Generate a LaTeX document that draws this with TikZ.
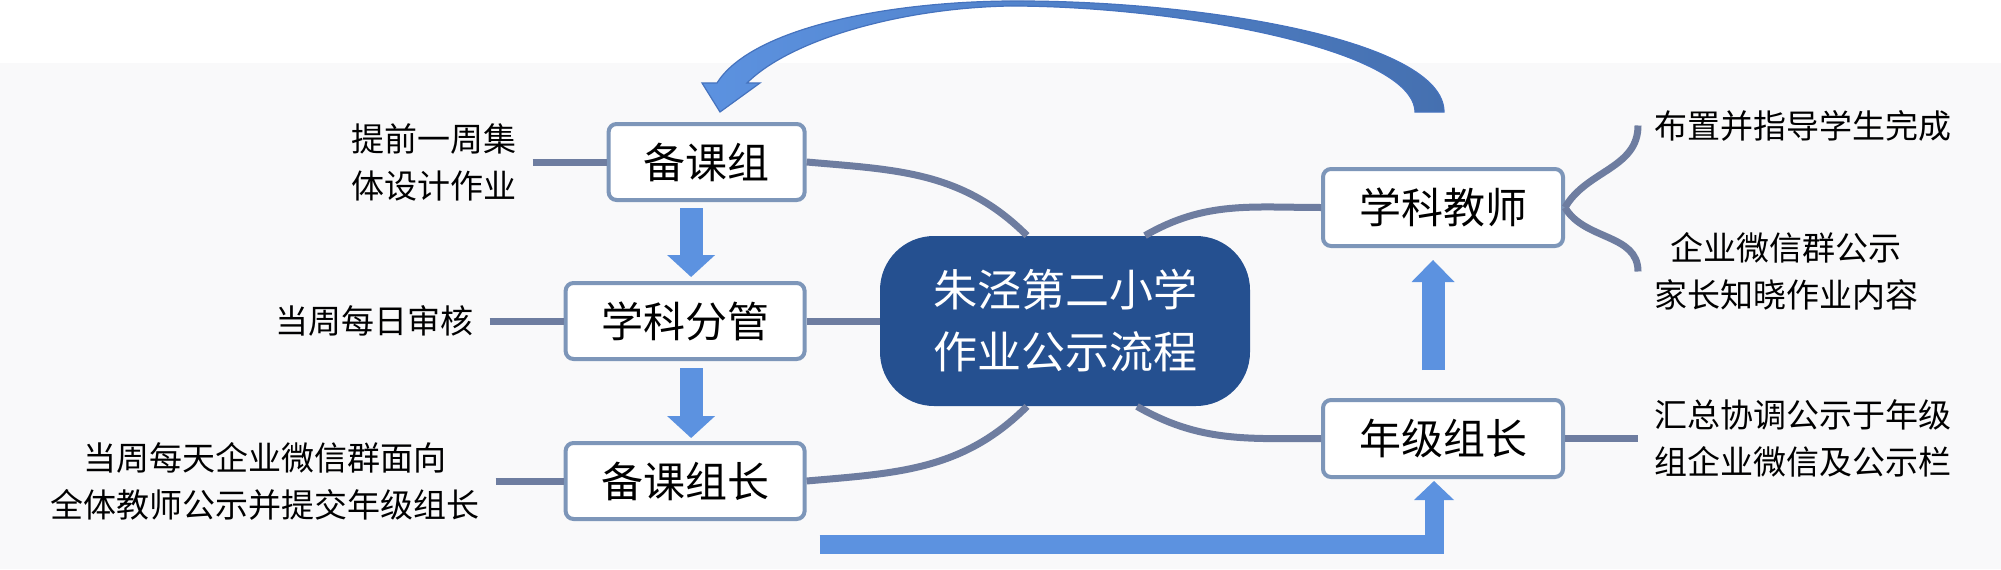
\documentclass[tikz,border=0pt]{standalone}
\usepackage{fontspec}
\newfontfamily\cjk{Noto Sans CJK SC}
\usetikzlibrary{positioning,arrows.meta}

\definecolor{bgcol}{RGB}{249,249,250}
\definecolor{hubcol}{RGB}{37,80,144}
\definecolor{boxline}{RGB}{125,150,185}
\definecolor{linkcol}{RGB}{110,125,160}
\definecolor{arrowfill}{RGB}{92,146,224}
\definecolor{arrowdark}{RGB}{69,112,176}
\definecolor{arrowedge}{RGB}{70,115,190}

\begin{document}
\begin{tikzpicture}[x=0.5pt,y=0.5pt,
                    %node distance=40pt,
                    box/.style={draw=boxline,line width=2pt,rounded corners=4pt,fill=white,
                                minimum height=38pt,font=\cjk\fontsize{21}{25}\selectfont},
                    hub/.style={fill=hubcol,rounded corners=27pt,minimum width=185pt,minimum height=85pt,
                                text=white,align=center,font=\cjk\fontsize{22}{31}\selectfont},
                    note/.style={align=center,inner xsep=8pt,font=\cjk\fontsize{16.5}{23.5}\selectfont},
                    link/.style={draw=linkcol,line width=3.5pt},
                    bigarrow/.style={draw=arrowfill,line width=11.5pt,
                                     -{Triangle[width=24pt,length=11pt,line width=0pt]}},
                    flatarrow/.style={draw=arrowfill,line width=9.5pt,
                                      -{Triangle[width=20pt,length=9.5pt,line width=0pt]}}]

  \useasboundingbox (0,0) rectangle (2001,569);
  \fill[bgcol] (0,0) rectangle (2001,506);

  % centre and left column
  \node[hub] (hub) at (1065,248) {朱泾第二小学\\作业公示流程};
  \node[box,minimum width=119.5pt] (fenguan) [left=36.5pt of hub] {学科分管};
  \node[box,minimum width=119.5pt] (zuzhang) [below=40pt of fenguan] {备课组长};
  \node[box,minimum width=98pt] (kezu) [above=39.5pt of fenguan.north east,anchor=south east] {备课组};

  % right column
  \node[box,minimum width=120pt,minimum height=38.5pt] (xueke) at (1443,361.5) {学科教师};
  \node[box,minimum width=120pt,minimum height=38.5pt] (nianji) [below=75pt of xueke] {年级组长};

  % notes
  \node[note] (tkezu) [left=37pt of kezu] {提前一周集\\体设计作业};
  \node[note] (tfenguan) [left=37pt of fenguan] {当周每日审核};
  \node[note] (tzuzhang) [left=34pt of zuzhang] {当周每天企业微信群面向\\全体教师公示并提交年级组长};
  \node[note] (tbuzhi) [above right=41pt and 36.5pt of xueke.east,anchor=west] {布置并指导学生完成};
  \node[note] (tgongshi) [below right=32pt and 36.5pt of xueke.east,anchor=west] {企业微信群公示\\家长知晓作业内容};
  \node[note] (thuizong) [right=36.5pt of nianji] {汇总协调公示于年级\\组企业微信及公示栏};

  % branches
  \draw[link] (tkezu.east) -- (kezu.west);
  \draw[link] (tfenguan.east) -- (fenguan.west);
  \draw[link] (tzuzhang.east) -- (zuzhang.west);
  \draw[link] (kezu.east) to[out=-5,in=135] ([xshift=-19pt]hub.north);
  \draw[link] (fenguan.east) -- (hub.west);
  \draw[link] (zuzhang.east) to[out=5,in=-135] ([xshift=-19pt]hub.south);
  \draw[link] ([xshift=40pt]hub.north) to[out=30,in=180] (xueke.west);
  \draw[link] ([xshift=36pt]hub.south) to[out=-30,in=180] (nianji.west);
  \draw[link] (xueke.east) to[out=60,in=-90] (tbuzhi.west);
  \draw[link] (xueke.east) to[out=-60,in=90] (tgongshi.west);
  \draw[link] (nianji.east) -- (thuizong.west);

  % flow arrows
  \draw[bigarrow,shorten <=3pt,shorten >=2pt] ([xshift=3pt]fenguan.north |- kezu.south) -- ([xshift=3pt]fenguan.north);
  \draw[bigarrow,shorten <=3.5pt,shorten >=1.5pt] ([xshift=3pt]fenguan.south) -- ([xshift=3pt]zuzhang.north);
  \draw[flatarrow,shorten >=1pt] ([xshift=6.5pt,yshift=-11.5pt]zuzhang.south east) -| ([xshift=-4.5pt]nianji.south);
  \draw[bigarrow,-{Triangle[width=21.5pt,length=11pt,line width=0pt]},shorten <=14pt,shorten >=6pt]
    ([xshift=-5pt]nianji.north) -- ([xshift=-5pt]xueke.south);

  % back to the start
  \path[left color=arrowfill,right color=arrowdark,draw=arrowedge,line width=0.6pt]
    (1444,457) .. controls (1444,529) and (1200,569) .. (1010,568)
    .. controls (880,567) and (750,539) .. (717,486)
    -- (702,486) -- (720,457) -- (760,486) -- (747,486)
    .. controls (790,529) and (900,561) .. (1010,563)
    .. controls (1180,563) and (1414,519) .. (1415,457) -- cycle;
\end{tikzpicture}
\end{document}
